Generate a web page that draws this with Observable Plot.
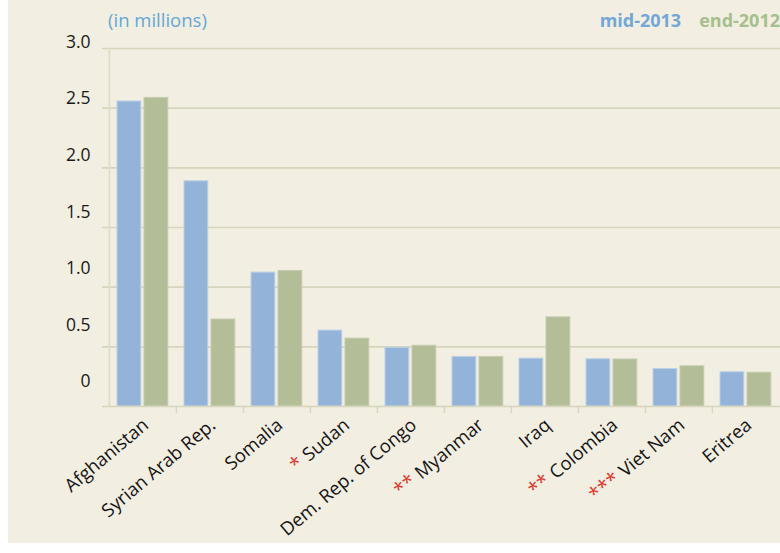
<!DOCTYPE html>
<html>
<head>
<meta charset="utf-8">
<script src="https://cdn.jsdelivr.net/npm/d3@7"></script>
<script src="https://cdn.jsdelivr.net/npm/@observablehq/plot@0.6"></script>
<style>
  html, body { margin: 0; padding: 0; background: #ffffff; }
  #wrap { position: relative; margin-left: 8px; width: 772px; height: 543px; background: #f2eee1; overflow: hidden; font-family: "Open Sans", "Lato", sans-serif; }
  #unit { position: absolute; left: 100px; top: 8px; font-size: 18.5px; color: #62a8d8; line-height: 24px; }
  #legend { position: absolute; right: 0px; top: 8px; font-size: 18px; font-weight: bold; line-height: 24px; white-space: nowrap; }
  #legend .mid { color: #72a7d8; margin-right: 18px; }
  #legend .end { color: #a5bf8d; }
  #chart { position: absolute; left: 0; top: 32px; }
</style>
</head>
<body>
<div id="wrap">
  <div id="unit">(in millions)</div>
  <div id="legend"><span class="mid">mid-2013</span><span class="end">end-2012</span></div>
  <div id="chart"></div>
</div>
<script>
const countries = ["Afghanistan", "Syrian Arab Rep.", "Somalia", "* Sudan", "Dem. Rep. of Congo", "** Myanmar", "Iraq", "** Colombia", "*** Viet Nam", "Eritrea"];
const mid2013 = [2.556, 1.887, 1.122, 0.636, 0.492, 0.415, 0.401, 0.396, 0.314, 0.287];
const end2012 = [2.586, 0.729, 1.136, 0.569, 0.509, 0.415, 0.747, 0.394, 0.337, 0.283];
const yTicks = [0, 0.5, 1.0, 1.5, 2.0, 2.5, 3.0];
const yTickLabels = ["0", "0.5", "1.0", "1.5", "2.0", "2.5", "3.0"];

const rows = countries.map((c, i) => ({country: c, mid: mid2013[i], end: end2012[i]}));

const gridColor = "#d5d6bd";
const axisColor = "#dcdcc7";
const blue = "#93b4d8";
const green = "#b3bd98";

const chart = Plot.plot({
  width: 772,
  height: 511,
  marginLeft: 100,
  marginRight: 0,
  marginTop: 16,
  marginBottom: 137,
  style: {background: "transparent", fontFamily: "'Open Sans', Lato, sans-serif", overflow: "visible"},
  x: {domain: countries, padding: 0, axis: null},
  y: {domain: [0, 3], axis: null},
  marks: [
    Plot.ruleY(yTicks.slice(1), {y: d => d, stroke: gridColor, strokeWidth: 1.6, insetLeft: -6}),
    Plot.ruleX([countries[0]], {x: d => d, dx: -33.6, y1: 0, y2: 3, stroke: axisColor, strokeWidth: 1.6}),
    Plot.barY(rows, {x: "country", y: "mid", fill: blue, stroke: "#bcd0e5", strokeWidth: 1, insetLeft: 8, insetRight: 35.2}),
    Plot.barY(rows, {x: "country", y: "end", fill: green, stroke: "#c6ccb0", strokeWidth: 1, insetLeft: 35, insetRight: 8.2}),
    Plot.ruleY([0], {stroke: gridColor, strokeWidth: 1.6, insetLeft: -6}),
    Plot.ruleX(countries.slice(1), {x: d => d, dx: -33.6, insetTop: 358, insetBottom: -7, stroke: gridColor, strokeWidth: 1.4}),
    Plot.text(yTicks, {y: d => 0.207 + 0.949 * d, text: (d, i) => yTickLabels[i], frameAnchor: "left", textAnchor: "end", dx: -18, fontSize: 17.5, fill: "#1a1a1a"}),
    Plot.text(countries, {x: d => d, frameAnchor: "bottom", rotate: -40, textAnchor: "end", lineAnchor: "middle", dx: 3, dy: 16, fontSize: 18.5, fill: "#151515"})
  ]
});

document.getElementById("chart").appendChild(chart);

// colour the leading asterisks red
chart.querySelectorAll("text").forEach(t => {
  const m = /^(\*+)\s(.*)$/.exec(t.textContent);
  if (m) {
    t.textContent = "";
    const a = document.createElementNS("http://www.w3.org/2000/svg", "tspan");
    a.setAttribute("fill", "#e33a30");
    a.setAttribute("font-size", "20");
    a.textContent = m[1] + " ";
    const b = document.createElementNS("http://www.w3.org/2000/svg", "tspan");
    b.textContent = m[2];
    t.appendChild(a);
    t.appendChild(b);
  }
});
</script>
</body>
</html>
